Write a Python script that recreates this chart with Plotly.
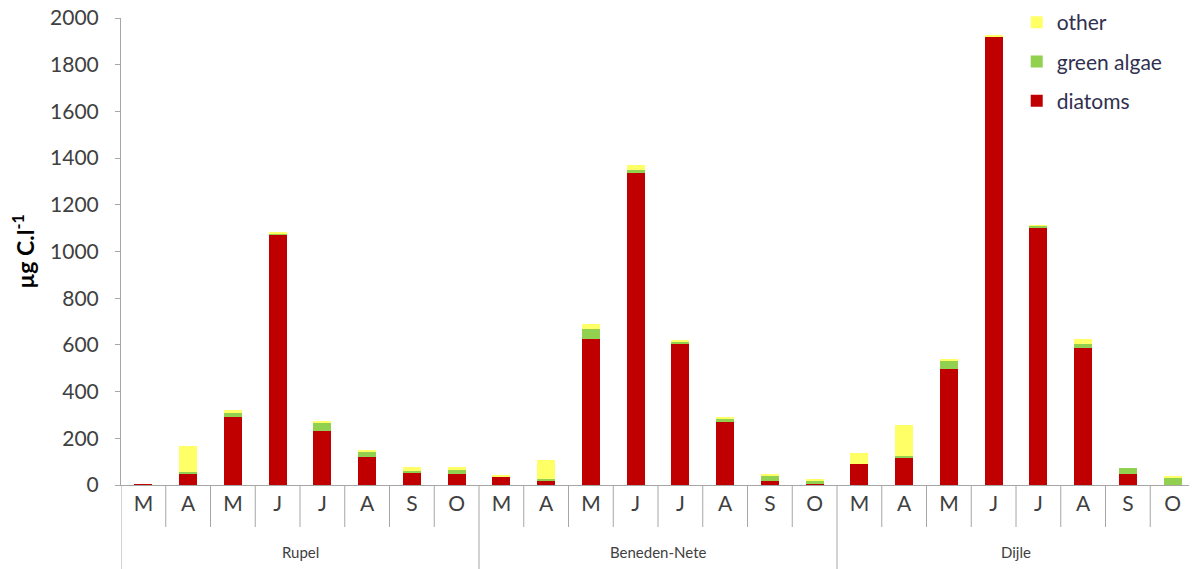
import plotly.graph_objects as go

groups = ["Rupel", "Beneden-Nete", "Dijle"]
months = ["M", "A", "M", "J", "J", "A", "S", "O"]

diatoms = [3, 50, 290, 1072, 230, 120, 55, 48,
           36, 20, 627, 1335, 602, 268, 17, 3,
           90, 114, 497, 1920, 1100, 585, 48, 2]
green_algae = [0, 5, 22, 5, 36, 24, 5, 15,
               2, 6, 41, 12, 12, 13, 24, 18,
               0, 10, 34, 2, 10, 18, 26, 30]
other = [0, 112, 8, 6, 6, 3, 18, 16,
         4, 82, 23, 22, 7, 9, 3, 3,
         46, 132, 9, 1, 2, 21, 0, 3]

x_idx = list(range(len(groups) * len(months)))
tick_text = months * len(groups)

colors = {"diatoms": "#C00000", "green algae": "#92D050", "other": "#FFFF66"}
ranks = {"other": 1, "green algae": 2, "diatoms": 3}

fig = go.Figure()
for name, vals in [("diatoms", diatoms), ("green algae", green_algae), ("other", other)]:
    fig.add_trace(go.Bar(x=x_idx, y=vals, name=name, marker_color=colors[name],
                         marker_line_width=0, legendgroup=name, legendrank=ranks[name]))

line_col = "#A6A6A6"
shapes = []
n = len(x_idx)
for b in range(n + 1):
    xb = b - 0.5
    is_group = (b % len(months) == 0)
    shapes.append(dict(type="line", xref="x", yref="paper", x0=xb, x1=xb,
                       y0=0, y1=-0.2 if is_group else -0.09,
                       line=dict(color=line_col, width=1)))

annotations = []
for g, name in enumerate(groups):
    annotations.append(dict(x=g * len(months) + (len(months) - 1) / 2, y=-0.143, xref="x", yref="paper",
                            text=name, showarrow=False, yanchor="middle",
                            font=dict(family="Lato", size=15, color="#404040")))

fig.update_layout(
    width=1189, height=561,
    margin=dict(l=113, r=2, t=10, b=84, autoexpand=False),
    paper_bgcolor="white", plot_bgcolor="white",
    barmode="stack", bargap=0.6,
    shapes=shapes, annotations=annotations,
    font=dict(family="Lato", size=20, color="#404040"),
    legend=dict(xref="paper", yref="paper", x=0.834, y=1.034,
                xanchor="left", yanchor="top",
                traceorder="grouped", tracegroupgap=9,
                font=dict(family="Lato", size=21, color="#303050"),
                bgcolor="rgba(0,0,0,0)"),
    showlegend=True,
)
fig.update_xaxes(range=[-0.5, n - 0.5], tickvals=x_idx, ticktext=tick_text,
                 showline=True, linecolor=line_col, linewidth=1, ticks="",
                 showgrid=False, zeroline=False, ticklabelstandoff=0, automargin=False,
                 ticklabeloverflow="allow",
                 tickfont=dict(family="Lato", size=21, color="#404040"))
fig.update_yaxes(range=[0, 2000], tickvals=list(range(0, 2001, 200)),
                 showline=True, linecolor=line_col, linewidth=1,
                 ticks="outside", ticklen=5, tickcolor=line_col, showgrid=False, zeroline=False,
                 ticklabelstandoff=12, automargin=False, ticklabeloverflow="allow",
                 tickfont=dict(family="Lato", size=21, color="#404040"),
                 title=dict(text="<b>µg C.l<sup>-1</sup></b>", standoff=9,
                            font=dict(family="Lato", size=23, color="black")))

fig.write_html("out.html")
